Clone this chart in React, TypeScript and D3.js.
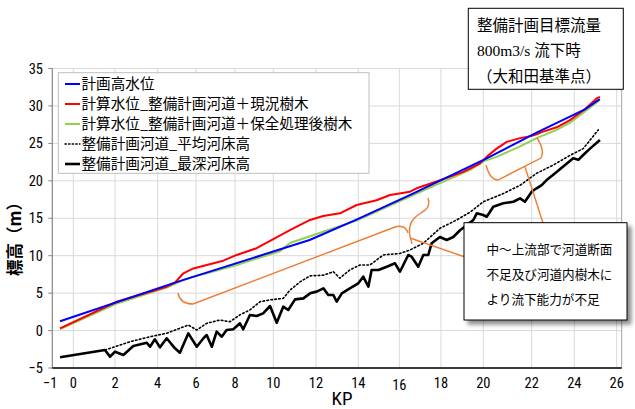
import React from 'react';
import * as d3 from 'd3';

const W = 635;
const H = 409;

// axis ticks
const xTickValues = [-1, 0, 2, 4, 6, 8, 10, 12, 14, 16, 18, 20, 22, 24, 26];
const xTickLabels = ['−1', '0', '2', '4', '6', '8', '10', '12', '14', '16', '18', '20', '22', '24', '26'];
const yTickValues = [-5, 0, 5, 10, 15, 20, 25, 30, 35];
const yTickLabels = ['−5', '0', '5', '10', '15', '20', '25', '30', '35'];

// series: [KP, elevation m]
const planHWL: [number, number][] = [
  [-0.63, 1.25], [4.9, 6.4], [11.7, 12.1], [13.94, 14.86], [16.5, 18.1],
  [20.14, 23.0], [22.23, 26.43], [24.5, 29.55], [25.2, 30.9],
];

const calcCurrentTrees: [number, number][] = [
  [-0.63, 0.3], [2.08, 3.85], [4.47, 5.86], [4.9, 6.4], [5.34, 7.65], [5.86, 8.3],
  [6.55, 8.76], [7.4, 9.33], [8.09, 10.1], [9.13, 11.0], [10.78, 13.4], [11.72, 14.77],
  [12.34, 15.3], [13.13, 15.66], [13.92, 16.77], [14.89, 17.4], [15.55, 18.1],
  [16.51, 18.55], [16.83, 19.0], [17.79, 19.9], [19.05, 21.2], [19.84, 22.3],
  [20.14, 23.2], [20.55, 24.3], [20.97, 25.2], [21.52, 25.7], [22.0, 26.0],
  [22.23, 26.2], [22.47, 26.5], [23.17, 27.15], [23.8, 28.1], [24.5, 29.55],
  [25.05, 31.0], [25.21, 31.2],
];

const calcTreatedTrees: [number, number][] = [
  [-0.63, 0.2], [2.08, 3.6], [4.47, 5.73], [5.34, 6.75], [5.86, 7.2], [6.55, 7.65],
  [8.09, 8.76], [10.31, 10.6], [10.78, 11.7], [12.34, 13.2], [13.92, 14.7],
  [16.51, 17.9], [17.79, 19.5], [19.38, 21.45], [20.0, 22.6], [20.55, 23.2],
  [21.52, 24.6], [22.23, 25.7], [23.17, 26.8], [23.8, 27.76], [24.5, 29.25],
  [25.21, 30.8],
];

const avgBed: [number, number][] = [
  [1.52, -2.6], [2.7, -1.49], [3.64, -0.82], [4.47, -0.36], [5.6, 0.74], [6.04, 0.07],
  [6.55, 0.97], [7.23, 1.41], [7.74, 1.18], [8.26, 2.1], [8.78, 2.75], [9.31, 3.85],
  [9.83, 4.1], [10.47, 4.3], [10.78, 5.4], [11.25, 6.5], [11.72, 7.3], [12.35, 7.4],
  [12.82, 7.86], [13.13, 7.0], [13.6, 8.1], [14.08, 8.76], [14.57, 8.76], [15.22, 10.1],
  [16.03, 10.3], [16.51, 10.76], [17.15, 11.65], [17.95, 13.66], [18.74, 14.77],
  [19.37, 15.8], [20.0, 17.2], [20.83, 18.3], [21.52, 19.4], [22.23, 21.0],
  [23.01, 22.1], [23.8, 23.4], [24.42, 24.3], [25.13, 26.8],
];

const deepestBed: [number, number][] = [
  [-0.63, -3.57], [1.52, -2.6], [1.76, -3.5], [2.0, -2.82], [2.39, -3.26], [2.86, -2.06],
  [3.49, -1.62], [3.64, -2.16], [3.87, -1.17], [4.12, -2.24], [4.47, -1.03], [4.9, -2.37],
  [5.16, -2.96], [5.6, -0.37], [6.04, -2.16], [6.38, -1.03], [6.55, -0.6], [6.81, -2.16],
  [7.06, -0.15], [7.32, -0.82], [7.57, 0.07], [7.91, 0.17], [8.26, 0.97], [8.43, 0.17],
  [8.78, 2.08], [9.13, 1.95], [9.47, 2.3], [9.83, 3.28], [10.16, 1.05], [10.47, 3.2],
  [10.7, 2.75], [11.02, 4.17], [11.41, 4.3], [11.72, 4.97], [12.03, 5.2], [12.35, 5.64],
  [12.58, 4.75], [12.82, 4.75], [12.98, 3.86], [13.22, 4.97], [13.6, 5.64], [14.0, 6.31],
  [14.24, 7.2], [14.49, 5.86], [14.65, 8.09], [14.98, 8.09], [15.39, 8.53], [15.79, 8.98],
  [16.03, 7.86], [16.43, 10.09], [16.59, 9.87], [16.91, 8.53], [17.15, 10.09], [17.39, 10.09],
  [17.55, 11.65], [17.95, 12.5], [18.27, 12.1], [18.58, 12.5], [18.9, 13.4], [19.13, 13.9],
  [19.53, 14.77], [19.69, 15.66], [20.0, 15.43], [20.14, 15.2], [20.28, 15.87], [20.41, 16.54],
  [20.83, 17.0], [21.24, 17.2], [21.52, 17.66], [21.72, 17.2], [22.0, 18.55], [22.23, 19.0],
  [22.47, 19.43], [22.7, 20.1], [23.01, 20.8], [23.48, 21.9], [23.95, 23.0], [24.19, 22.8],
  [24.42, 23.45], [24.74, 24.3], [25.21, 25.45],
];

const legendLabels = [
  '計画高水位',
  '計算水位_整備計画河道＋現況樹木',
  '計算水位_整備計画河道＋保全処理後樹木',
  '整備計画河道_平均河床高',
  '整備計画河道_最深河床高',
];

const infoLines = ['整備計画目標流量', '800m3/s 流下時', '（大和田基準点）'];
const noteLines = ['中～上流部で河道断面', '不足及び河道内樹木に', 'より流下能力が不足'];

const JP = "'Noto Sans CJK JP', 'Noto Sans', sans-serif";
const NUM = "'Liberation Sans Narrow', 'Roboto Condensed', 'Liberation Sans', sans-serif";

export default function App() {
  const x = d3
    .scaleLinear()
    .domain(xTickValues)
    .range([52.3, 73.3, 115, 157.7, 196, 235, 273.3, 316, 358.3, 399.3, 441, 483.3, 531.7, 574.3, 616.7]);
  const y = d3.scaleLinear().domain([-5, 35]).range([368, 68.5]);
  const left = x(-1);
  const right = x(26) + 5;
  const top = y(35);
  const bottom = y(-5);

  const line = d3
    .line<[number, number]>()
    .x((d) => x(d[0]))
    .y((d) => y(d[1]));

  const series = [
    { data: calcTreatedTrees, color: '#92D050', width: 2, dash: undefined as string | undefined },
    { data: calcCurrentTrees, color: '#FF0000', width: 2, dash: undefined },
    { data: planHWL, color: '#0000FF', width: 2, dash: undefined },
    { data: avgBed, color: '#000000', width: 1.6, dash: '1.6 2.4' },
    { data: deepestBed, color: '#000000', width: 2.6, dash: undefined },
  ];

  const legendStyles = [
    { color: '#0000FF', width: 2, dash: undefined as string | undefined },
    { color: '#FF0000', width: 2, dash: undefined },
    { color: '#92D050', width: 2, dash: undefined },
    { color: '#000000', width: 1.4, dash: '1.4 2.2' },
    { color: '#000000', width: 2.6, dash: undefined },
  ];

  const orange = '#ED7D31';

  return (
    <svg
      width={W}
      height={H}
      viewBox={`0 0 ${W} ${H}`}
      style={{ position: 'absolute', left: 0, top: 0, background: '#fff' }}
    >
      <defs>
        <filter id="shadow" x="-10%" y="-10%" width="130%" height="140%">
          <feDropShadow dx="4" dy="4" stdDeviation="2" floodColor="#000" floodOpacity="0.45" />
        </filter>
      </defs>
      <rect x={0} y={0} width={W} height={H} fill="#fff" />

      {/* grid */}
      {yTickValues.map((v) => (
        <line key={'gy' + v} x1={left} x2={right} y1={y(v)} y2={y(v)} stroke="#D9D9D9" strokeWidth={1} />
      ))}
      {xTickValues.slice(1).map((v) => (
        <line key={'gx' + v} x1={x(v)} x2={x(v)} y1={top} y2={bottom} stroke="#D9D9D9" strokeWidth={1} />
      ))}
      <line x1={right} x2={right} y1={top} y2={bottom} stroke="#A6A6A6" strokeWidth={1} />

      {/* axes */}
      <line x1={left} x2={left} y1={top} y2={bottom} stroke="#868686" strokeWidth={1.2} />
      {yTickValues.map((v) => (
        <line key={'ty' + v} x1={left - 4} x2={left} y1={y(v)} y2={y(v)} stroke="#868686" strokeWidth={1} />
      ))}
      <line x1={left} x2={right} y1={bottom} y2={bottom} stroke="#000" strokeWidth={1.5} />

      {/* series */}
      {series.map((s, i) => (
        <path
          key={'s' + i}
          d={line(s.data) || ''}
          fill="none"
          stroke={s.color}
          strokeWidth={s.width}
          strokeDasharray={s.dash}
          strokeLinejoin="round"
          strokeLinecap={s.dash ? 'round' : 'butt'}
        />
      ))}

      {/* tick labels */}
      {yTickValues.map((v, i) => (
        <text key={'ly' + v} x={43} y={y(v) + 5} textAnchor="end" fontFamily={NUM} fontSize={14.5} fill="#000">
          {yTickLabels[i]}
        </text>
      ))}
      {xTickValues.map((v, i) => (
        <text
          key={'lx' + v}
          x={i === 0 ? x(v) - 2 : x(v)}
          y={v === 16 ? 390 : 388}
          textAnchor="middle"
          fontFamily={NUM}
          fontSize={14.5}
          fill="#000"
        >
          {xTickLabels[i]}
        </text>
      ))}
      <text x={342} y={405} textAnchor="middle" fontFamily={NUM} fontSize={19} fill="#000">
        KP
      </text>
      <text
        transform="translate(21,235) rotate(-90)"
        textAnchor="middle"
        fontFamily={JP}
        fontSize={16.5}
        fontWeight={700}
        fill="#000"
      >
        標高（m）
      </text>

      {/* legend */}
      <rect x={58.3} y={72.7} width={310.7} height={100.6} fill="#fff" stroke="#BFBFBF" strokeWidth={1} />
      {legendLabels.map((lab, i) => {
        const cy = 84 + i * 20;
        const st = legendStyles[i];
        return (
          <g key={'lg' + i}>
            <line
              x1={65}
              x2={80}
              y1={cy}
              y2={cy}
              stroke={st.color}
              strokeWidth={st.width}
              strokeDasharray={st.dash}
              strokeLinecap={st.dash ? 'round' : 'butt'}
            />
            <text x={81.5} y={cy + 5.3} fontFamily={JP} fontSize={14.6} fill="#000">
              {lab}
            </text>
          </g>
        );
      })}

      {/* orange callouts */}
      <g fill="none" stroke={orange} strokeWidth={1.4}>
        <path d="M178,293 Q180,304 193,304 L395,227 Q405,224 408,233" />
        <path d="M428,198 C433,214 413,211 410,226 C408,234 411,239 412,244" />
        <path d="M410,238 L465,257" />
        <path d="M486,165 Q490,180 498,180 L541,158 Q545,150 537,138" />
        <path d="M525,167 L543,223" />
      </g>

      {/* info box top-right */}
      <rect x={468.3} y={8.3} width={155} height={81} fill="#fff" stroke="#000" strokeWidth={1} />
      {infoLines.map((t, i) => (
        <text
          key={'in' + i}
          x={477}
          y={30.5 + i * 25.5}
          fontFamily="'Liberation Serif', 'Noto Sans CJK JP', serif"
          fontSize={15.5}
          fill="#000"
        >
          {t}
        </text>
      ))}

      {/* annotation box */}
      <rect
        x={464}
        y={222.7}
        width={163}
        height={97.3}
        fill="#fff"
        stroke="#000"
        strokeWidth={1}
        filter="url(#shadow)"
      />
      {noteLines.map((t, i) => (
        <text key={'nt' + i} x={486.5} y={254 + i * 25} fontFamily={JP} fontSize={12.6} fill="#000">
          {t}
        </text>
      ))}
    </svg>
  );
}
